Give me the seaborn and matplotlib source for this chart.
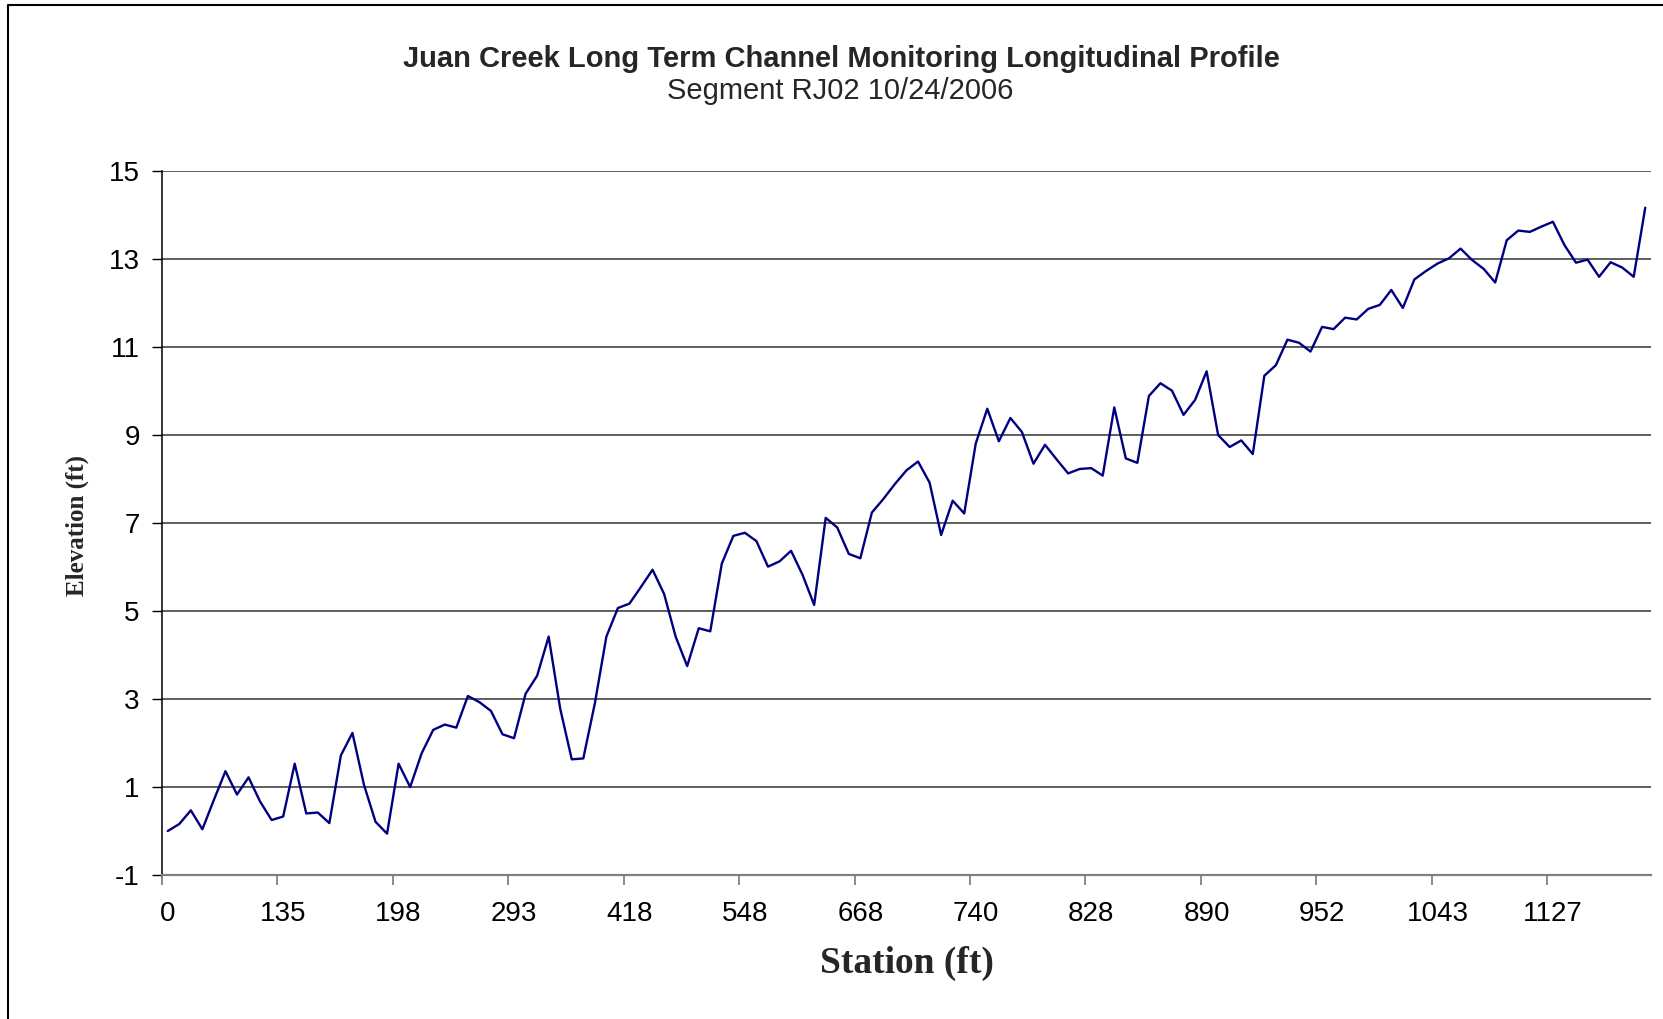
"""Juan Creek longitudinal profile, segment RJ02 (10/24/2006)."""

import matplotlib.pyplot as plt
import numpy as np
import pandas as pd
import seaborn as sns
from matplotlib.lines import Line2D
from matplotlib.ticker import FixedLocator

# Station labels shown under every 10th survey point
station_labels = ["0", "135", "198", "293", "418", "548", "668",
                  "740", "828", "890", "952", "1043", "1127"]

# Channel bed elevation (ft) at each survey point
elevation = [
    0.00, 0.16, 0.47, 0.04, 0.71, 1.36, 0.83, 1.22, 0.67, 0.25,
    0.33, 1.53, 0.40, 0.42, 0.18, 1.72, 2.23, 1.05, 0.21, -0.06,
    1.53, 1.00, 1.77, 2.30, 2.42, 2.35, 3.07, 2.93, 2.73, 2.20,
    2.11, 3.12, 3.53, 4.42, 2.78, 1.63, 1.65, 2.90, 4.42, 5.07,
    5.17, 5.55, 5.94, 5.39, 4.42, 3.75, 4.61, 4.54, 6.08, 6.71,
    6.78, 6.59, 6.01, 6.13, 6.37, 5.82, 5.14, 7.12, 6.90, 6.30,
    6.20, 7.24, 7.55, 7.89, 8.20, 8.40, 7.92, 6.73, 7.51, 7.22,
    8.81, 9.60, 8.86, 9.39, 9.07, 8.35, 8.78, 8.45, 8.13, 8.23,
    8.25, 8.08, 9.63, 8.47, 8.37, 9.89, 10.18, 10.01, 9.46, 9.80,
    10.45, 9.00, 8.73, 8.88, 8.57, 10.35, 10.59, 11.17, 11.10, 10.90,
    11.46, 11.41, 11.67, 11.63, 11.87, 11.96, 12.30, 11.89, 12.54, 12.73,
    12.90, 13.02, 13.24, 12.98, 12.78, 12.47, 13.43, 13.65, 13.62, 13.74,
    13.85, 13.32, 12.92, 12.99, 12.60, 12.93, 12.81, 12.60, 14.17,
]

y_ticks = list(range(-1, 16, 2))

sns.set_style("white")
plt.rcParams["font.family"] = ["Liberation Sans", "DejaVu Sans"]

df = pd.DataFrame({"point": np.arange(len(elevation)), "elevation": elevation})
n = len(df)

fig = plt.figure(figsize=(16.63, 10.19), dpi=100)
ax = fig.add_axes([0.0974, 0.1413, 0.8954, 0.6907])

sns.lineplot(data=df, x="point", y="elevation", color="#000080",
             linewidth=1.7, ax=ax)

ax.set_xlim(-0.5, n - 0.5)
ax.set_ylim(-1, 15)
ax.set_yticks(y_ticks)
ax.set_yticklabels([str(v) for v in y_ticks])
ax.yaxis.grid(True, color="#333333", linewidth=1.1)
ax.set_axisbelow(True)

# category labels centred on every 10th point, tick marks between points
ax.set_xticks(np.arange(0, n, 10))
ax.set_xticklabels(station_labels)
ax.xaxis.set_minor_locator(FixedLocator(np.arange(0, n + 1, 10) - 0.5))
ax.tick_params(axis="x", which="major", length=0, pad=19, labelsize=20,
               labelcolor="black")
ax.tick_params(axis="x", which="minor", length=7, width=1.2, color="#777777",
               direction="out", bottom=True)
ax.tick_params(axis="y", length=7, width=1.0, color="black", direction="out",
               left=True, pad=9, labelsize=20, labelcolor="black")

for side in ("top", "right"):
    ax.spines[side].set_visible(False)
ax.spines["left"].set_color("black")
ax.spines["left"].set_linewidth(1.1)
ax.spines["bottom"].set_color("#808080")
ax.spines["bottom"].set_linewidth(1.6)

ax.set_xlabel("Station (ft)", family="Liberation Serif", fontweight="bold",
              fontsize=27, va="top")
ax.xaxis.set_label_coords(0.5, -0.1)
ax.set_ylabel("Elevation (ft)", family="Liberation Serif", fontweight="bold",
              fontsize=18)
ax.yaxis.set_label_coords(-0.049, 0.497)

fig.text(0.5057, 0.942, "Juan Creek Long Term Channel Monitoring Longitudinal Profile",
         ha="center", va="center", fontsize=21, fontweight="bold")
fig.text(0.5055, 0.9106, "Segment RJ02 10/24/2006",
         ha="center", va="center", fontsize=21)

# chart-area frame (left and top edges)
fig.add_artist(Line2D([0.0048, 0.0048, 1.0], [0.0, 0.9951, 0.9951],
                      transform=fig.transFigure, color="black", linewidth=1.5))

fig.savefig("out.png", dpi=100)
plt.close(fig)
